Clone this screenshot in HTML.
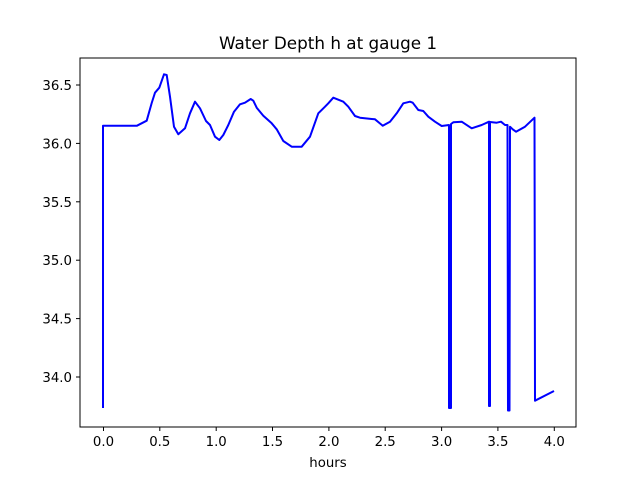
<!DOCTYPE html>
<html><head><style>body{margin:0;background:#fff}</style></head><body>
<svg width="640" height="480" xmlns="http://www.w3.org/2000/svg" font-family="'DejaVu Sans',sans-serif">
<rect width="640" height="480" fill="#fff"/>
<text x="328" y="49" font-size="16.8" text-anchor="middle" fill="#000">Water Depth h at gauge 1</text>
<polyline fill="none" stroke="#0000ff" stroke-width="2" stroke-linejoin="round" points="103,408 103,125.7 137,125.7 146.7,120.7 151.7,103 155,92.7 159.3,87.7 164,74.3 166.7,75 170,96.7 174,126.7 178.3,134.3 185,128.3 190,113.3 195,101.7 200,108.3 206,121 210,125 215,136.7 219.3,140 223.3,135 228.3,125 234,111.7 240,104.3 245,102.7 250.7,99 253.3,100.7 256.7,107.7 263.3,115.7 271.7,123.3 276.7,129.3 283.3,141 291.7,146.7 296.7,146.7 301.7,146.7 310,136.7 318.3,113.3 325,106.7 328.3,103.3 333.3,97.7 343.3,101.7 348.3,106.7 355,116 360,117.7 371.7,119 375,119.3 382.7,125.7 390,121.7 396.7,113.3 403.3,103.3 410,101.7 412.7,102.7 418.3,110 423.3,111 428.3,116.7 435,121.7 441.7,126 449,125 449,408 451,408 451,124 453.3,122.3 461.7,121.7 471.7,128.3 481.7,125 489,121.7 489,406 490,406 490,122 496.7,122.7 501,121.7 505,125 507.5,125 508,410.5 509.5,410.5 510,126.7 512.7,129.3 516,131.7 525,126.7 534.5,117.7 535,400.7 554,391"/>
<rect x="80" y="58" width="496" height="369" fill="none" stroke="#000" stroke-width="1"/>
<g stroke="#000" stroke-width="1">
<line x1="103.5" y1="427" x2="103.5" y2="431"/><line x1="159.8" y1="427" x2="159.8" y2="431"/><line x1="216.2" y1="427" x2="216.2" y2="431"/><line x1="272.5" y1="427" x2="272.5" y2="431"/><line x1="328.9" y1="427" x2="328.9" y2="431"/><line x1="385.2" y1="427" x2="385.2" y2="431"/><line x1="441.6" y1="427" x2="441.6" y2="431"/><line x1="497.9" y1="427" x2="497.9" y2="431"/><line x1="554.3" y1="427" x2="554.3" y2="431"/>
<line x1="76" y1="85" x2="80" y2="85"/><line x1="76" y1="143.4" x2="80" y2="143.4"/><line x1="76" y1="201.8" x2="80" y2="201.8"/><line x1="76" y1="260.2" x2="80" y2="260.2"/><line x1="76" y1="318.6" x2="80" y2="318.6"/><line x1="76" y1="377" x2="80" y2="377"/>
</g>
<g font-size="13.3" fill="#000" text-anchor="middle">
<text x="103.5" y="446">0.0</text><text x="159.8" y="446">0.5</text><text x="216.2" y="446">1.0</text><text x="272.5" y="446">1.5</text><text x="328.9" y="446">2.0</text><text x="385.2" y="446">2.5</text><text x="441.6" y="446">3.0</text><text x="497.9" y="446">3.5</text><text x="554.3" y="446">4.0</text>
<text x="328" y="467">hours</text>
</g>
<g font-size="13.3" fill="#000" text-anchor="end">
<text x="72" y="90">36.5</text><text x="72" y="148.4">36.0</text><text x="72" y="206.8">35.5</text><text x="72" y="265.2">35.0</text><text x="72" y="323.6">34.5</text><text x="72" y="382">34.0</text>
</g>
</svg>
</body></html>
